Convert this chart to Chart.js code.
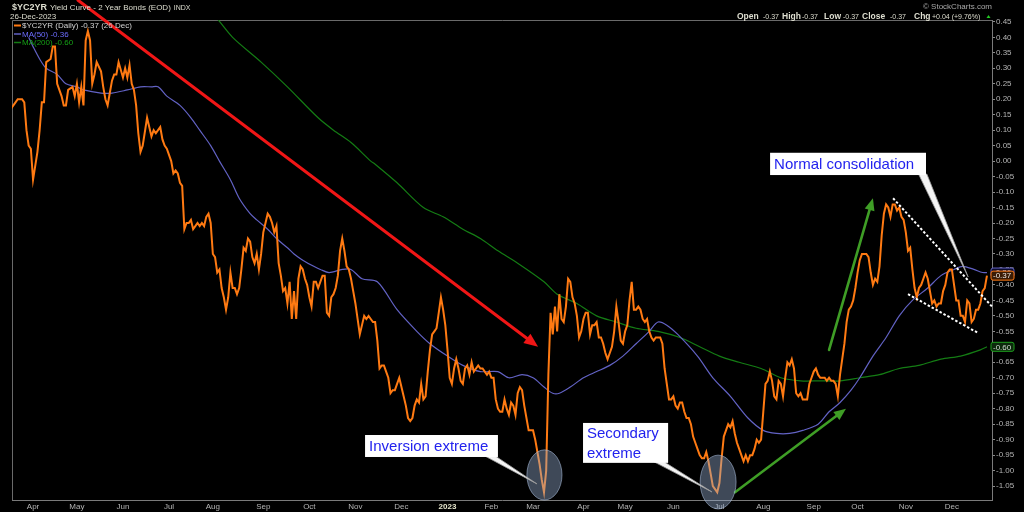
<!DOCTYPE html>
<html>
<head>
<meta charset="utf-8">
<title>$YC2YR Yield Curve</title>
<script src="https://cdn.jsdelivr.net/npm/chart.js@4.4.0/dist/chart.umd.min.js"></script>
<style>
  html, body { margin: 0; padding: 0; background: #000; }
  #wrap { width: 1024px; height: 512px; }
</style>
</head>
<body>
<div id="wrap"><canvas id="ycChart" width="1024" height="512"></canvas></div>
<script>
// x = trading day counted from 1-Apr-2022 (day 0)
const monthLabels = ["Apr","May","Jun","Jul","Aug","Sep","Oct","Nov","Dec","2023","Feb","Mar","Apr","May","Jun","Jul","Aug","Sep","Oct","Nov","Dec"];
const monthStartDays = [0,20,41,62,82,105,126,147,168,189,209,228,251,270,292,313,333,356,376,398,419];
const yTicks = [0.45,0.40,0.35,0.30,0.25,0.20,0.15,0.10,0.05,0.00,-0.05,-0.10,-0.15,-0.20,-0.25,-0.30,-0.35,-0.40,-0.45,-0.50,-0.55,-0.60,-0.65,-0.70,-0.75,-0.80,-0.85,-0.90,-0.95,-1.00,-1.05];

// $YC2YR daily [day, value]
const yc2yr = [[-10,0.17],[-8,0.19],[-7,0.20],[-5,0.20],[-4,0.19],[-3,0.10],[-2,0.05],[-1,0.04],[0,-0.06],[2,0.03],[3,0.10],[4,0.19],[5,0.19],[6,0.32],[8,0.33],[9,0.37],[10,0.37],[11,0.25],[13,0.21],[14,0.18],[15,0.18],[16,0.23],[18,0.24],[19,0.21],[20,0.25],[21,0.19],[22,0.24],[23,0.18],[24,0.39],[25,0.42],[26,0.39],[27,0.25],[28,0.28],[29,0.32],[31,0.29],[32,0.24],[33,0.20],[34,0.18],[35,0.22],[36,0.26],[37,0.28],[38,0.28],[39,0.32],[41,0.27],[42,0.30],[43,0.27],[44,0.31],[45,0.25],[46,0.23],[47,0.18],[48,0.09],[49,0.03],[50,0.05],[52,0.14],[53,0.11],[54,0.08],[55,0.10],[56,0.09],[57,0.10],[58,0.11],[59,0.07],[60,0.05],[61,0.04],[62,0.02],[63,0.00],[64,-0.04],[65,-0.03],[66,-0.04],[67,-0.07],[68,-0.08],[69,-0.22],[70,-0.20],[71,-0.20],[72,-0.19],[73,-0.22],[74,-0.21],[75,-0.20],[76,-0.21],[77,-0.20],[78,-0.21],[79,-0.18],[80,-0.17],[81,-0.20],[82,-0.30],[83,-0.31],[84,-0.36],[85,-0.35],[86,-0.41],[87,-0.44],[88,-0.48],[89,-0.44],[90,-0.36],[91,-0.41],[92,-0.41],[93,-0.43],[94,-0.41],[95,-0.35],[96,-0.28],[97,-0.29],[98,-0.25],[99,-0.26],[100,-0.31],[101,-0.33],[102,-0.30],[103,-0.35],[104,-0.30],[105,-0.23],[106,-0.20],[107,-0.17],[108,-0.18],[109,-0.20],[110,-0.23],[111,-0.21],[112,-0.33],[113,-0.37],[114,-0.42],[115,-0.41],[116,-0.46],[117,-0.39],[118,-0.51],[119,-0.42],[120,-0.51],[121,-0.38],[122,-0.34],[123,-0.35],[124,-0.38],[125,-0.40],[126,-0.44],[127,-0.47],[128,-0.39],[129,-0.39],[130,-0.41],[131,-0.39],[132,-0.37],[133,-0.37],[134,-0.49],[135,-0.50],[136,-0.44],[137,-0.43],[138,-0.41],[139,-0.37],[140,-0.29],[141,-0.25],[142,-0.29],[143,-0.34],[144,-0.35],[145,-0.38],[146,-0.42],[147,-0.46],[148,-0.51],[149,-0.56],[150,-0.53],[151,-0.50],[152,-0.51],[153,-0.50],[154,-0.51],[155,-0.52],[156,-0.52],[157,-0.58],[158,-0.67],[159,-0.66],[160,-0.66],[161,-0.68],[162,-0.70],[163,-0.75],[164,-0.74],[165,-0.74],[166,-0.72],[167,-0.70],[168,-0.73],[169,-0.76],[170,-0.79],[171,-0.83],[172,-0.84],[173,-0.83],[174,-0.79],[175,-0.77],[176,-0.78],[177,-0.72],[178,-0.77],[179,-0.76],[180,-0.68],[181,-0.61],[182,-0.56],[183,-0.55],[184,-0.54],[185,-0.49],[186,-0.44],[187,-0.48],[188,-0.53],[189,-0.61],[190,-0.70],[191,-0.72],[192,-0.67],[193,-0.64],[194,-0.67],[195,-0.71],[196,-0.72],[197,-0.67],[198,-0.66],[199,-0.69],[200,-0.65],[201,-0.68],[202,-0.67],[203,-0.66],[204,-0.67],[205,-0.67],[206,-0.68],[207,-0.69],[208,-0.68],[209,-0.70],[210,-0.70],[211,-0.77],[212,-0.80],[213,-0.81],[214,-0.81],[215,-0.77],[216,-0.80],[217,-0.82],[218,-0.78],[219,-0.79],[220,-0.82],[221,-0.75],[222,-0.73],[223,-0.74],[224,-0.79],[225,-0.83],[226,-0.87],[227,-0.87],[228,-0.87],[229,-0.90],[230,-0.94],[231,-0.98],[232,-1.03],[233,-1.07],[234,-1.00],[235,-0.69],[236,-0.49],[237,-0.56],[238,-0.47],[239,-0.55],[240,-0.43],[241,-0.51],[242,-0.52],[243,-0.47],[244,-0.38],[245,-0.39],[246,-0.44],[247,-0.46],[248,-0.50],[249,-0.57],[250,-0.55],[251,-0.51],[252,-0.49],[253,-0.49],[254,-0.56],[255,-0.53],[256,-0.53],[257,-0.52],[258,-0.57],[259,-0.57],[260,-0.59],[261,-0.62],[262,-0.64],[263,-0.62],[264,-0.60],[265,-0.55],[266,-0.47],[267,-0.52],[268,-0.58],[269,-0.59],[270,-0.55],[271,-0.53],[272,-0.45],[273,-0.39],[274,-0.48],[275,-0.48],[276,-0.47],[277,-0.48],[278,-0.51],[279,-0.52],[280,-0.51],[281,-0.55],[282,-0.57],[283,-0.58],[284,-0.57],[285,-0.57],[286,-0.57],[287,-0.59],[288,-0.67],[289,-0.72],[290,-0.77],[291,-0.77],[292,-0.76],[293,-0.79],[294,-0.80],[295,-0.78],[296,-0.78],[297,-0.81],[298,-0.83],[299,-0.83],[300,-0.85],[301,-0.89],[302,-0.91],[303,-0.93],[304,-0.95],[305,-0.96],[306,-0.96],[307,-0.94],[308,-0.97],[309,-1.01],[310,-1.05],[311,-1.06],[312,-1.07],[313,-1.04],[314,-0.96],[315,-0.89],[316,-0.87],[317,-0.85],[318,-0.86],[319,-0.84],[320,-0.88],[321,-0.91],[322,-0.93],[323,-0.95],[324,-0.97],[325,-0.95],[326,-0.97],[327,-0.95],[328,-0.95],[329,-0.93],[330,-0.90],[331,-0.91],[332,-0.90],[333,-0.81],[334,-0.72],[335,-0.71],[336,-0.68],[337,-0.71],[338,-0.76],[339,-0.77],[340,-0.71],[341,-0.72],[342,-0.76],[343,-0.70],[344,-0.65],[345,-0.66],[346,-0.64],[347,-0.67],[348,-0.75],[349,-0.76],[350,-0.75],[351,-0.77],[352,-0.77],[353,-0.77],[354,-0.72],[355,-0.70],[356,-0.68],[357,-0.67],[358,-0.69],[359,-0.70],[360,-0.70],[361,-0.70],[362,-0.71],[363,-0.70],[364,-0.71],[365,-0.71],[366,-0.72],[367,-0.76],[368,-0.69],[369,-0.64],[370,-0.59],[371,-0.52],[372,-0.48],[373,-0.47],[374,-0.45],[375,-0.41],[376,-0.36],[377,-0.32],[378,-0.30],[379,-0.30],[380,-0.30],[381,-0.31],[382,-0.36],[383,-0.40],[384,-0.38],[385,-0.39],[386,-0.34],[387,-0.24],[388,-0.17],[389,-0.14],[390,-0.15],[391,-0.18],[392,-0.14],[393,-0.14],[394,-0.16],[395,-0.15],[396,-0.18],[397,-0.19],[398,-0.23],[399,-0.29],[400,-0.28],[401,-0.35],[402,-0.41],[403,-0.44],[404,-0.41],[405,-0.40],[406,-0.38],[407,-0.36],[408,-0.38],[409,-0.42],[410,-0.46],[411,-0.45],[412,-0.47],[413,-0.46],[414,-0.46],[415,-0.42],[416,-0.40],[417,-0.36],[418,-0.35],[419,-0.35],[420,-0.40],[421,-0.45],[422,-0.45],[423,-0.50],[424,-0.50],[425,-0.52],[426,-0.45],[427,-0.46],[428,-0.52],[429,-0.51],[430,-0.48],[431,-0.48],[432,-0.46],[433,-0.42],[434,-0.41],[435,-0.37]];

// MA(50)
const ma50 = [[-2,0.40],[0,0.37],[3,0.33],[6,0.30],[11,0.28],[15,0.25],[20,0.24],[23,0.23],[31,0.22],[36,0.22],[43,0.23],[49,0.24],[54,0.24],[57,0.24],[61,0.21],[67,0.18],[72,0.14],[76,0.10],[81,0.05],[85,0.00],[90,-0.06],[94,-0.12],[99,-0.17],[102,-0.19],[107,-0.22],[111,-0.25],[116,-0.28],[119,-0.30],[123,-0.32],[128,-0.34],[131,-0.35],[135,-0.36],[141,-0.35],[145,-0.35],[150,-0.38],[157,-0.39],[166,-0.48],[175,-0.55],[181,-0.59],[189,-0.63],[196,-0.66],[204,-0.68],[212,-0.68],[217,-0.70],[223,-0.69],[228,-0.70],[233,-0.73],[237,-0.75],[240,-0.75],[245,-0.73],[251,-0.70],[257,-0.68],[263,-0.66],[269,-0.63],[275,-0.59],[281,-0.55],[285,-0.52],[289,-0.53],[294,-0.56],[303,-0.63],[310,-0.70],[318,-0.76],[326,-0.83],[333,-0.87],[339,-0.88],[345,-0.88],[351,-0.87],[358,-0.85],[363,-0.81],[368,-0.78],[373,-0.74],[377,-0.70],[383,-0.63],[389,-0.57],[395,-0.50],[401,-0.45],[408,-0.41],[414,-0.37],[420,-0.35],[424,-0.34],[429,-0.35],[433,-0.36],[435,-0.36]];

// MA(200)
const ma200 = [[76,0.52],[84,0.46],[91,0.40],[104,0.32],[116,0.24],[130,0.14],[137,0.10],[145,0.06],[154,0.00],[156,-0.01],[166,-0.07],[178,-0.15],[187,-0.18],[196,-0.22],[204,-0.25],[212,-0.29],[221,-0.33],[233,-0.39],[239,-0.43],[248,-0.46],[257,-0.50],[266,-0.52],[275,-0.54],[285,-0.55],[295,-0.57],[304,-0.60],[313,-0.63],[322,-0.65],[332,-0.67],[341,-0.70],[350,-0.71],[359,-0.71],[368,-0.71],[377,-0.70],[386,-0.69],[395,-0.67],[404,-0.66],[414,-0.64],[423,-0.63],[432,-0.61],[435,-0.60]];

// quote line for 26-Dec-2023
const quote = { open: -0.37, high: -0.37, low: -0.37, close: -0.37, chg: "+0.04", chgPct: "+9.76%" };

// annotations, in [day, value]
const redArrow = [[20.5, 0.52], [230.3, -0.60]];
const greenArrows = [[[363.0, -0.61], [383.0, -0.12]], [[320.1, -1.07], [370.7, -0.80]]];
const dashedLines = [[[392.2, -0.12], [437.3, -0.47]], [[399.0, -0.43], [430.9, -0.555]]];
const circles = [{ c: [233.2, -1.014], dx: 8.0, dy: 0.081 }, { c: [312.4, -1.037], dx: 8.2, dy: 0.087 }];
const callouts = [
  { lines: ["Inversion extreme"], tl: [151.4, -0.885], br: [212.0, -0.956], base: [206.0, 210.8], tip: [229.8, -1.043] },
  { lines: ["Secondary", "extreme"], tl: [250.8, -0.846], br: [289.6, -0.975], base: [283.2, 287.8], tip: [309.6, -1.069] },
  { lines: ["Normal consolidation"], tl: [336.1, 0.027], br: [407.2, -0.045], base: [403.8, 407.6], tip: [426.4, -0.374] }
];

const FONT = '"Liberation Sans", Arial, Helvetica, sans-serif';
const ORANGE = "#ff7a12";
const BLUE = "#6262c4";
const GREEN = "#147c14";
const HEAD = "#deded0";

const toXY = arr => arr.map(p => ({ x: p[0], y: p[1] }));
const last = arr => arr[arr.length - 1][1];

function drawArrow(ctx, x1, y1, x2, y2, color, w, head) {
  const a = Math.atan2(y2 - y1, x2 - x1);
  ctx.strokeStyle = color;
  ctx.lineWidth = w;
  ctx.lineCap = "round";
  ctx.beginPath();
  ctx.moveTo(x1, y1);
  ctx.lineTo(x2 - Math.cos(a) * head * 0.8, y2 - Math.sin(a) * head * 0.8);
  ctx.stroke();
  const hw = head * 0.42;
  ctx.fillStyle = color;
  ctx.beginPath();
  ctx.moveTo(x2, y2);
  ctx.lineTo(x2 - head * Math.cos(a) + hw * Math.sin(a), y2 - head * Math.sin(a) - hw * Math.cos(a));
  ctx.lineTo(x2 - head * Math.cos(a) - hw * Math.sin(a), y2 - head * Math.sin(a) + hw * Math.cos(a));
  ctx.closePath();
  ctx.fill();
}

function drawAnnotations(chart) {
  const ctx = chart.ctx;
  const X = d => chart.scales.x.getPixelForValue(d);
  const Y = v => chart.scales.y.getPixelForValue(v);
  ctx.save();

  drawArrow(ctx, X(redArrow[0][0]), Y(redArrow[0][1]), X(redArrow[1][0]), Y(redArrow[1][1]), "#f01616", 3, 14);
  greenArrows.forEach(g => drawArrow(ctx, X(g[0][0]), Y(g[0][1]), X(g[1][0]), Y(g[1][1]), "#3f9e26", 2.6, 12));

  ctx.strokeStyle = "#ffffff";
  ctx.lineWidth = 2;
  ctx.lineCap = "butt";
  ctx.setLineDash([2.5, 2]);
  dashedLines.forEach(l => {
    ctx.beginPath();
    ctx.moveTo(X(l[0][0]), Y(l[0][1]));
    ctx.lineTo(X(l[1][0]), Y(l[1][1]));
    ctx.stroke();
  });
  ctx.setLineDash([]);

  circles.forEach(c => {
    const cx = X(c.c[0]), cy = Y(c.c[1]);
    const rx = Math.abs(X(c.c[0] + c.dx) - cx), ry = Math.abs(Y(c.c[1] + c.dy) - cy);
    ctx.beginPath();
    ctx.ellipse(cx, cy, rx, ry, 0, 0, Math.PI * 2);
    ctx.fillStyle = "rgba(150,175,210,0.42)";
    ctx.fill();
    ctx.strokeStyle = "rgba(175,195,225,0.55)";
    ctx.lineWidth = 1;
    ctx.stroke();
  });

  callouts.forEach(c => {
    const x1 = X(c.tl[0]), y1 = Y(c.tl[1]), x2 = X(c.br[0]), y2 = Y(c.br[1]);
    ctx.beginPath();
    ctx.moveTo(X(c.base[0]), y2 - 1);
    ctx.lineTo(X(c.base[1]), y2 - 1);
    ctx.lineTo(X(c.tip[0]), Y(c.tip[1]));
    ctx.closePath();
    ctx.fillStyle = "#f4f4f4";
    ctx.fill();
    ctx.strokeStyle = "#9a9a9a";
    ctx.lineWidth = 0.8;
    ctx.stroke();
    ctx.fillStyle = "#ffffff";
    ctx.fillRect(x1, y1, x2 - x1, y2 - y1);
    ctx.fillStyle = "#2222ee";
    ctx.font = "15px " + FONT;
    ctx.textBaseline = "middle";
    ctx.textAlign = "left";
    const h = (y2 - y1) / c.lines.length;
    c.lines.forEach((t, i) => ctx.fillText(t, x1 + 4, y1 + h * (i + 0.5) + 1));
  });
  ctx.restore();
}

function drawBadge(ctx, x, y, text, stroke, fill, color) {
  const w = 23, h = 9;
  ctx.beginPath();
  ctx.roundRect(x, y - h / 2, w, h, 2);
  ctx.fillStyle = fill;
  ctx.fill();
  ctx.strokeStyle = stroke;
  ctx.lineWidth = 1;
  ctx.stroke();
  ctx.fillStyle = color;
  ctx.font = "8px " + FONT;
  ctx.textBaseline = "middle";
  ctx.textAlign = "left";
  ctx.fillText(text, x + 2, y + 0.5);
}

function drawHeader(chart) {
  const ctx = chart.ctx;
  const a = chart.chartArea;
  ctx.save();
  ctx.textBaseline = "alphabetic";
  ctx.textAlign = "left";
  ctx.fillStyle = HEAD;
  ctx.font = "bold 9px " + FONT;
  ctx.fillText("$YC2YR", 12, 10);
  let x = 12 + ctx.measureText("$YC2YR").width + 3;
  ctx.font = "8px " + FONT;
  ctx.fillText("Yield Curve - 2 Year Bonds (EOD)", x, 10);
  x += ctx.measureText("Yield Curve - 2 Year Bonds (EOD)").width + 3;
  ctx.font = "7px " + FONT;
  ctx.fillText("INDX", x, 10);
  ctx.font = "8px " + FONT;
  ctx.fillText("26-Dec-2023", 10, 18.5);

  // legend
  const legend = [
    ["$YC2YR (Daily) " + last(yc2yr).toFixed(2) + " (26 Dec)", ORANGE, "#d2d2d2", 2],
    ["MA(50) " + last(ma50).toFixed(2), BLUE, "#6c6cff", 1.5],
    ["MA(200) " + last(ma200).toFixed(2), GREEN, "#15a015", 1.5]
  ];
  legend.forEach((l, i) => {
    const y = 25.5 + i * 8.5;
    ctx.strokeStyle = l[1];
    ctx.lineWidth = l[3];
    ctx.beginPath();
    ctx.moveTo(a.left + 2, y);
    ctx.lineTo(a.left + 9, y);
    ctx.stroke();
    ctx.fillStyle = l[2];
    ctx.font = "8px " + FONT;
    ctx.textBaseline = "middle";
    ctx.fillText(l[0], a.left + 10, y + 0.5);
  });

  // top right
  ctx.textBaseline = "alphabetic";
  ctx.textAlign = "right";
  ctx.fillStyle = "#a8a8a8";
  ctx.font = "8px " + FONT;
  ctx.fillText("\u00A9 StockCharts.com", 992, 9.3);
  ctx.textAlign = "left";
  const parts = [
    ["Open", true, 737], [quote.open.toFixed(2), false, 763],
    ["High", true, 782], [quote.high.toFixed(2), false, 802],
    ["Low", true, 824], [quote.low.toFixed(2), false, 843],
    ["Close", true, 862], [quote.close.toFixed(2), false, 890],
    ["Chg", true, 914], [quote.chg + " (" + quote.chgPct + ")", false, 932]
  ];
  parts.forEach(p => {
    ctx.font = (p[1] ? "bold 8.5px " : "7px ") + FONT;
    ctx.fillStyle = HEAD;
    ctx.fillText(p[0], p[2], 18.5);
  });
  ctx.fillStyle = "#22cc22";
  ctx.beginPath();
  ctx.moveTo(986.5, 18);
  ctx.lineTo(990.5, 18);
  ctx.lineTo(988.5, 15);
  ctx.closePath();
  ctx.fill();

  // price badges on the axis
  const Y = v => chart.scales.y.getPixelForValue(v);
  drawBadge(ctx, a.right - 1, Y(last(ma50)), last(ma50).toFixed(2), BLUE, "#0c0c2c", "#d0d0e8");
  drawBadge(ctx, a.right - 1, Y(last(ma200)), last(ma200).toFixed(2), "#1ea01e", "#0c2a0c", "#d0d8d0");
  drawBadge(ctx, a.right - 1, Y(last(yc2yr)), last(yc2yr).toFixed(2), ORANGE, "#3a1c06", "#f0e8e0");
  ctx.restore();
}

const chartDecor = {
  id: "chartDecor",
  beforeDraw(chart) {
    const ctx = chart.ctx;
    ctx.save();
    ctx.fillStyle = "#000";
    ctx.fillRect(0, 0, chart.width, chart.height);
    ctx.restore();
  },
  beforeDatasetsDraw(chart) {
    const ctx = chart.ctx, a = chart.chartArea;
    ctx.save();
    ctx.strokeStyle = "#6a6a6a";
    ctx.lineWidth = 1;
    ctx.beginPath();
    ctx.moveTo(a.left + 0.5, a.bottom);
    ctx.lineTo(a.left + 0.5, a.top + 0.5);
    ctx.lineTo(a.right, a.top + 0.5);
    ctx.stroke();
    ctx.restore();
  },
  afterDatasetsDraw(chart) { drawAnnotations(chart); },
  afterDraw(chart) { drawHeader(chart); }
};

new Chart(document.getElementById("ycChart"), {
  type: "line",
  data: {
    datasets: [
      { label: "$YC2YR", data: toXY(yc2yr), borderColor: ORANGE, borderWidth: 2, pointRadius: 0, tension: 0, order: 0 },
      { label: "MA(50)", data: toXY(ma50), borderColor: BLUE, borderWidth: 1.2, pointRadius: 0, tension: 0.3, order: 1 },
      { label: "MA(200)", data: toXY(ma200), borderColor: GREEN, borderWidth: 1.2, pointRadius: 0, tension: 0.3, order: 2 }
    ]
  },
  options: {
    responsive: false,
    devicePixelRatio: 1,
    animation: false,
    events: [],
    layout: { padding: { left: 12, top: 20, right: 0, bottom: 0 } },
    plugins: { legend: { display: false }, tooltip: { enabled: false } },
    scales: {
      x: {
        type: "linear",
        min: -9.6,
        max: 437.3,
        afterBuildTicks: s => { s.ticks = monthStartDays.map(v => ({ value: v })); },
        afterFit: s => { s.height = 12; },
        grid: { display: false, drawTicks: false },
        border: { display: true, color: "#7a7a7a", dash: [1, 1] },
        ticks: {
          autoSkip: false,
          maxRotation: 0,
          padding: 2,
          callback: (v, i) => monthLabels[i],
          color: c => monthLabels[c.index] === "2023" ? "#e6e6cc" : "#b4b4b4",
          font: c => ({ family: FONT, size: 8, weight: monthLabels[c.index] === "2023" ? "bold" : "normal" })
        }
      },
      y: {
        type: "linear",
        position: "right",
        min: -1.095,
        max: 0.456,
        afterBuildTicks: s => { s.ticks = yTicks.map(v => ({ value: v })); },
        afterFit: s => { s.width = 32; },
        grid: { display: true, drawOnChartArea: false, drawTicks: true, tickLength: 3, color: "#8a8a8a" },
        border: { display: true, color: "#7a7a7a", dash: [1, 1] },
        ticks: {
          padding: 1,
          color: "#b4b4b4",
          font: { family: FONT, size: 8 },
          callback: v => v.toFixed(2)
        }
      }
    }
  },
  plugins: [chartDecor]
});
</script>
</body>
</html>
